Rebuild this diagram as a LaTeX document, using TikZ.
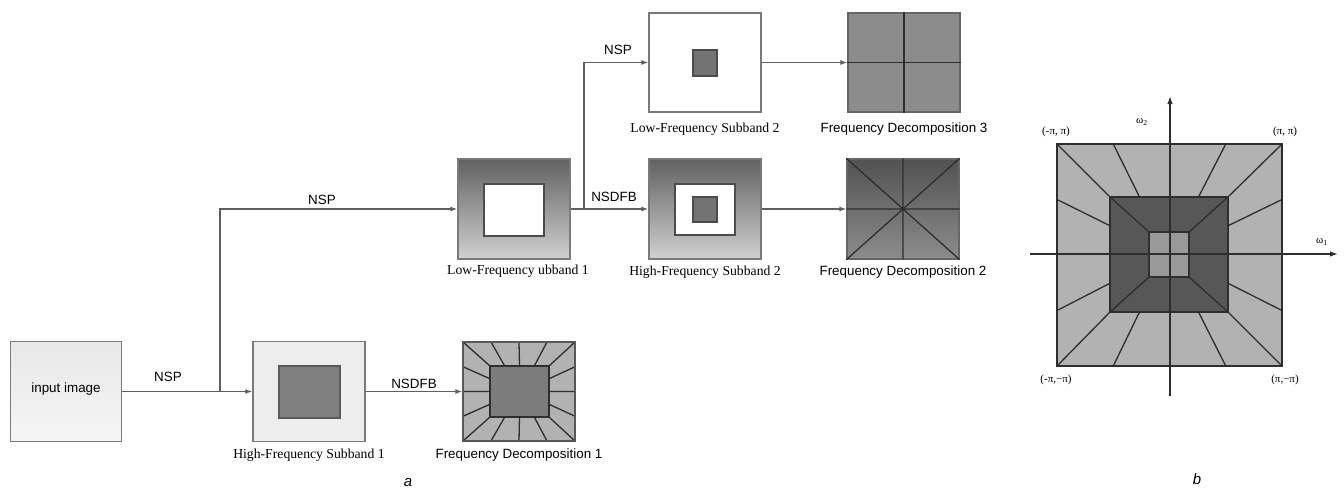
\documentclass[tikz,border=0pt]{standalone}
\usepackage{fontspec}
\setmainfont{Liberation Serif}
\newfontfamily\arialf{Liberation Sans}
\usetikzlibrary{arrows.meta,calc}
\definecolor{edgec}{HTML}{5F5F5F}
\definecolor{bord}{HTML}{7A7A7A}
\definecolor{fanc}{HTML}{2E2E2E}
\definecolor{fdouter}{HTML}{B2B2B2}
\definecolor{fdinner}{HTML}{7C7C7C}
\tikzset{
  conn/.style={draw=edgec, line width=1.2pt, -{Latex[length=7pt,width=5pt]}},
  box/.style={draw=bord, line width=1.3pt, minimum width=112pt, minimum height=100pt, inner sep=0pt},
  fanline/.style={draw=fanc, line width=1.3pt},
  sanslbl/.style={font=\arialf\fontsize{13.4}{15}\selectfont, inner sep=0pt},
  seriflbl/.style={font=\fontsize{13.7}{15}\selectfont, inner sep=0pt},
  smalllbl/.style={font=\fontsize{11}{12}\selectfont, inner sep=0pt},
  partlbl/.style={font=\arialf\itshape\fontsize{15}{16}\selectfont, inner sep=0pt},
}
% corner diagonals between outer (#1,#2)-(#3,#4) and inner (#5,#6)-(#7,#8)
\newcommand\fanC[8]{%
  \draw[fanline] (#1,#2)--(#5,#6) (#3,#2)--(#7,#6) (#1,#4)--(#5,#8) (#3,#4)--(#7,#8);}
% side lines at fractions #9
\newcommand\fanS[9]{%
  \foreach \f in {#9}{%
    \draw[fanline] ({#1+(#3-#1)*\f},#2)--({#5+(#7-#5)*\f},#6)
      ({#1+(#3-#1)*\f},#4)--({#5+(#7-#5)*\f},#8)
      (#1,{#2+(#4-#2)*\f})--(#5,{#6+(#8-#6)*\f})
      (#3,{#2+(#4-#2)*\f})--(#7,{#6+(#8-#6)*\f});}}
\begin{document}
\begin{tikzpicture}[x=1pt,y=-1pt]
\useasboundingbox (0,0) rectangle (1344,491);
% ---------- part a: boxes ----------
\node[box, minimum width=111pt, top color=black!9, bottom color=black!4] (input) at (66,391.5) {};
\node[sanslbl] (inputlbl) at (66,389) {input image};
\node[box, fill=black!7] (hf1) at (309,391.5) {};
\draw[draw=black!65, line width=1.2pt, fill=black!50] (279,366) rectangle (340,418);
\node[box, draw=black!65, fill=fdouter, minimum height=99pt] (fd1) at (519,391.5) {};
\draw[draw=fanc, line width=1.3pt, fill=fdinner] (490,366) rectangle (549,417);
\fanC{463}{342}{575}{441}{490}{366}{549}{417}
\fanS{463}{342}{575}{441}{490}{366}{549}{417}{0.25,0.5,0.75}
\draw[draw=black!65, line width=1.3pt] (463,342) rectangle (575,441);

\node[box, top color=black!62, bottom color=black!18] (lf1) at (514,209) {};
\draw[draw=black!70, line width=1.2pt, fill=white] (484,184) rectangle (544,236);
\node[box, top color=black!62, bottom color=black!18] (hf2) at (705,209) {};
\draw[draw=black!70, line width=1.2pt, fill=white] (675,184) rectangle (735,235);
\draw[draw=black!70, line width=1.2pt, fill=black!55] (693,197) rectangle (717,222);
\node[box, draw=black!60, top color=black!68, bottom color=black!45] (fd2) at (903,209) {};
\draw[fanline] (fd2.north west)--(fd2.south east) (fd2.north east)--(fd2.south west)
  (fd2.north)--(fd2.south) (fd2.west)--(fd2.east);

\node[box, fill=white, minimum height=99pt] (lf2) at (705,62.5) {};
\draw[draw=black!70, line width=1.2pt, fill=black!55] (693,50) rectangle (717,76);
\node[box, draw=black!60, fill=black!45, minimum height=99pt] (fd3) at (904,62.5) {};
\draw[fanline] (fd3.north)--(fd3.south) (fd3.west)--(fd3.east);

% ---------- part a: labels ----------
\node[seriflbl] (hf1lbl) at (309,455) {High-Frequency Subband 1};
\node[sanslbl] (fd1lbl) at (519,455) {Frequency Decomposition 1};
\node[seriflbl] (lf1lbl) at (518,271) {Low-Frequency ubband 1};
\node[seriflbl] (hf2lbl) at (705,272) {High-Frequency Subband 2};
\node[sanslbl] (fd2lbl) at (903,272) {Frequency Decomposition 2};
\node[seriflbl] (lf2lbl) at (705,129) {Low-Frequency Subband 2};
\node[sanslbl] (fd3lbl) at (904,129) {Frequency Decomposition 3};

% ---------- part a: connectors ----------
\coordinate (b1) at (220,391.5);
\coordinate (b2) at (584,209);
\draw[conn] (input) -- (hf1);
\draw[conn] (b1) |- (lf1.west);
\draw[conn] (hf1) -- (fd1);
\draw[conn] (lf1) -- (hf2);
\draw[conn] (b2) |- (lf2.west);
\draw[conn] (lf2) -- (fd3);
\draw[conn] (hf2) -- (fd2);
\node[sanslbl] (nsp1) at (168,377) {NSP};
\node[sanslbl] (nsp2) at (322,200) {NSP};
\node[sanslbl] (nsdfb1) at (414,384) {NSDFB};
\node[sanslbl] (nsdfb2) at (614,197) {NSDFB};
\node[sanslbl] (nsp3) at (618,50) {NSP};
\node[partlbl] (lbla) at (408,483) {a};

% ---------- part b ----------
\fill[black!30] (1057,144) rectangle (1282,366);
\fill[black!66] (1110,197) rectangle (1228,312);
\fill[black!40] (1149,232) rectangle (1189,277);
\fanC{1057}{144}{1282}{366}{1110}{197}{1228}{312}
\fanS{1057}{144}{1282}{366}{1110}{197}{1228}{312}{0.25,0.75}
\fanC{1110}{197}{1228}{312}{1149}{232}{1189}{277}
\draw[fanline] (1057,144) rectangle (1282,366);
\draw[fanline] (1110,197) rectangle (1228,312);
\draw[fanline] (1149,232) rectangle (1189,277);
\coordinate (hx0) at (1030,254);
\coordinate (hx1) at (1338,254);
\coordinate (vy0) at (1170,396);
\coordinate (vy1) at (1170,96);
\draw[draw=fanc, line width=1.3pt, -{Latex[length=8pt,width=5.5pt]}] (hx0) -- (hx1);
\draw[draw=fanc, line width=1.3pt, -{Latex[length=8pt,width=5.5pt]}] (vy0) -- (vy1);
\node[smalllbl] (w2) at (1142,122) {ω\textsubscript{2}};
\node[smalllbl] (w1) at (1322,242) {ω\textsubscript{1}};
\node[smalllbl] (pmp) at (1056,132) {(-π, π)};
\node[smalllbl] (ppp) at (1285,132) {(π, π)};
\node[smalllbl] (pmm) at (1056,380) {(-π,−π)};
\node[smalllbl] (ppm) at (1285,380) {(π,−π)};
\node[partlbl] (lblb) at (1197,479) {b};
\end{tikzpicture}
\end{document}
